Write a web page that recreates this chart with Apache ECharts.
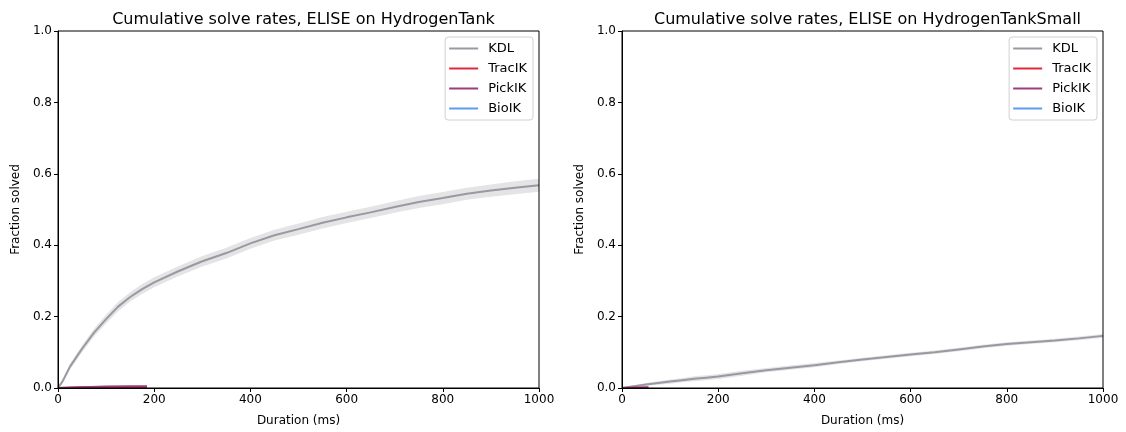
<!DOCTYPE html>
<html>
<head>
<meta charset="utf-8">
<script src="https://cdn.jsdelivr.net/npm/echarts@6/dist/echarts.min.js"></script>
<style>
  html, body { margin: 0; padding: 0; background: #fff; }
  #chart { width: 1126px; height: 432px; }
</style>
</head>
<body>
<div id="chart"></div>
<script>
// data
const titles = ['Cumulative solve rates, ELISE on HydrogenTank', 'Cumulative solve rates, ELISE on HydrogenTankSmall'];
const solvers = ['KDL', 'TracIK', 'PickIK', 'BioIK'];
const colors = ['#9a98a0', '#e0283c', '#9a3c80', '#5b9cf0'];
const yTicks = [0, 0.2, 0.4, 0.6, 0.8, 1.0];

const durations = [0, 10, 25, 50, 75, 100, 125, 150, 175, 200, 250, 300, 350, 400, 450, 500, 550, 600, 650, 700, 750, 800, 850, 900, 950, 1000];

// HydrogenTank
const kdlTank = [0, 0.02, 0.06, 0.11, 0.155, 0.193, 0.228, 0.255, 0.277, 0.296, 0.327, 0.355, 0.378, 0.405, 0.428, 0.445, 0.463, 0.478, 0.492, 0.507, 0.521, 0.532, 0.544, 0.553, 0.561, 0.568];
const kdlTankErr = [0, 0.006, 0.008, 0.01, 0.011, 0.012, 0.013, 0.013, 0.014, 0.014, 0.014, 0.015, 0.015, 0.015, 0.015, 0.016, 0.016, 0.016, 0.016, 0.016, 0.017, 0.017, 0.017, 0.017, 0.018, 0.018];
const fastDur = [0, 50, 100, 150, 185];
const tracTank = [0, 0.002, 0.003, 0.003, 0.003];
const pickTank = [0, 0.002, 0.004, 0.005, 0.005];

// HydrogenTankSmall
const kdlSmall = [0, 0.002, 0.005, 0.01, 0.014, 0.018, 0.022, 0.026, 0.029, 0.032, 0.041, 0.05, 0.057, 0.064, 0.072, 0.08, 0.087, 0.094, 0.1, 0.108, 0.116, 0.123, 0.128, 0.133, 0.139, 0.146];
const kdlSmallErr = [0, 0.002, 0.003, 0.004, 0.005, 0.006, 0.006, 0.007, 0.007, 0.007, 0.007, 0.006, 0.006, 0.006, 0.005, 0.005, 0.005, 0.005, 0.005, 0.005, 0.005, 0.005, 0.005, 0.005, 0.005, 0.005];
const smallDur = [0, 25, 55];
const tracSmall = [0, 0.001, 0.001];
const pickSmall = [0, 0.001, 0.002];

const pairs = (xs, ys) => xs.map((x, i) => [x, ys[i]]);

const font = 'DejaVu Sans';
const chart = echarts.init(document.getElementById('chart'));

const grids = [
  { left: 58, top: 31, width: 481, height: 357 },
  { left: 622, top: 31, width: 481, height: 357 }
];

// confidence band: grey fill under the upper edge, white fill under the lower edge
function bandSeries(idx, ys, err) {
  return [
    {
      type: 'line', xAxisIndex: idx, yAxisIndex: idx,
      data: pairs(durations, ys.map((v, i) => v + err[i])),
      showSymbol: false, lineStyle: { width: 0, opacity: 0 },
      areaStyle: { color: '#e4e4e6', opacity: 1, origin: 'start' }, silent: true, z: 1
    },
    {
      type: 'line', xAxisIndex: idx, yAxisIndex: idx,
      data: pairs(durations, ys.map((v, i) => Math.max(0, v - err[i]))),
      showSymbol: false, lineStyle: { width: 0, opacity: 0 },
      areaStyle: { color: '#ffffff', opacity: 1, origin: 'start' }, silent: true, z: 1
    }
  ];
}

function lineSeries(idx, name, xs, ys) {
  const c = colors[solvers.indexOf(name)];
  return {
    name: name, type: 'line', xAxisIndex: idx, yAxisIndex: idx,
    data: pairs(xs, ys), showSymbol: false, color: c,
    lineStyle: { width: 2, color: c }, z: 3
  };
}

const series = [
  ...bandSeries(0, kdlTank, kdlTankErr),
  lineSeries(0, 'KDL', durations, kdlTank),
  lineSeries(0, 'TracIK', fastDur, tracTank),
  lineSeries(0, 'PickIK', fastDur, pickTank),
  lineSeries(0, 'BioIK', [], []),
  ...bandSeries(1, kdlSmall, kdlSmallErr),
  lineSeries(1, 'KDL', durations, kdlSmall),
  lineSeries(1, 'TracIK', smallDur, tracSmall),
  lineSeries(1, 'PickIK', smallDur, pickSmall),
  lineSeries(1, 'BioIK', [], [])
];

const axisText = { fontFamily: font, fontSize: 12, color: '#000' };

chart.setOption({
  animation: false,
  backgroundColor: '#fff',
  title: titles.map((t, i) => ({
    text: t, left: grids[i].left + grids[i].width / 2, top: 7, textAlign: 'center',
    textStyle: { fontFamily: font, fontSize: 16, fontWeight: 'normal', color: '#000' }
  })),
  legend: grids.map(g => ({
    data: solvers, orient: 'vertical',
    right: 1126 - g.left - g.width + 6, top: 37,
    itemWidth: 29, itemHeight: 2, itemGap: 7,
    icon: 'rect',
    borderColor: '#d0d0d0', borderWidth: 1, borderRadius: 3,
    padding: [5, 6, 5, 4],
    textStyle: { fontFamily: font, fontSize: 13, color: '#000', padding: [0, 0, 0, 5] }
  })),
  grid: grids.map(g => ({ ...g, show: true, borderColor: '#000', borderWidth: 1, backgroundColor: 'transparent', z: 10 })),
  xAxis: grids.map((g, i) => ({
    type: 'value', gridIndex: i, min: 0, max: 1000, interval: 200, z: 5,
    name: 'Duration (ms)', nameLocation: 'middle', nameGap: 27,
    nameTextStyle: axisText,
    axisLine: { show: true, onZero: false, lineStyle: { color: '#000' } },
    axisTick: { show: true, length: 4, lineStyle: { color: '#000' } },
    axisLabel: { ...axisText, margin: 6, formatter: v => String(v) },
    splitLine: { show: false }
  })),
  yAxis: grids.map((g, i) => ({
    type: 'value', gridIndex: i, min: 0, max: 1, interval: 0.2, z: 5,
    name: 'Fraction solved', nameLocation: 'middle', nameGap: 36,
    nameTextStyle: axisText,
    axisLine: { show: true, lineStyle: { color: '#000' } },
    axisTick: { show: true, length: 4, lineStyle: { color: '#000' } },
    axisLabel: { ...axisText, margin: 6, formatter: v => yTicks.some(t => Math.abs(t - v) < 1e-9) ? v.toFixed(1) : '' },
    splitLine: { show: false }
  })),
  series: series
});
</script>
</body>
</html>
